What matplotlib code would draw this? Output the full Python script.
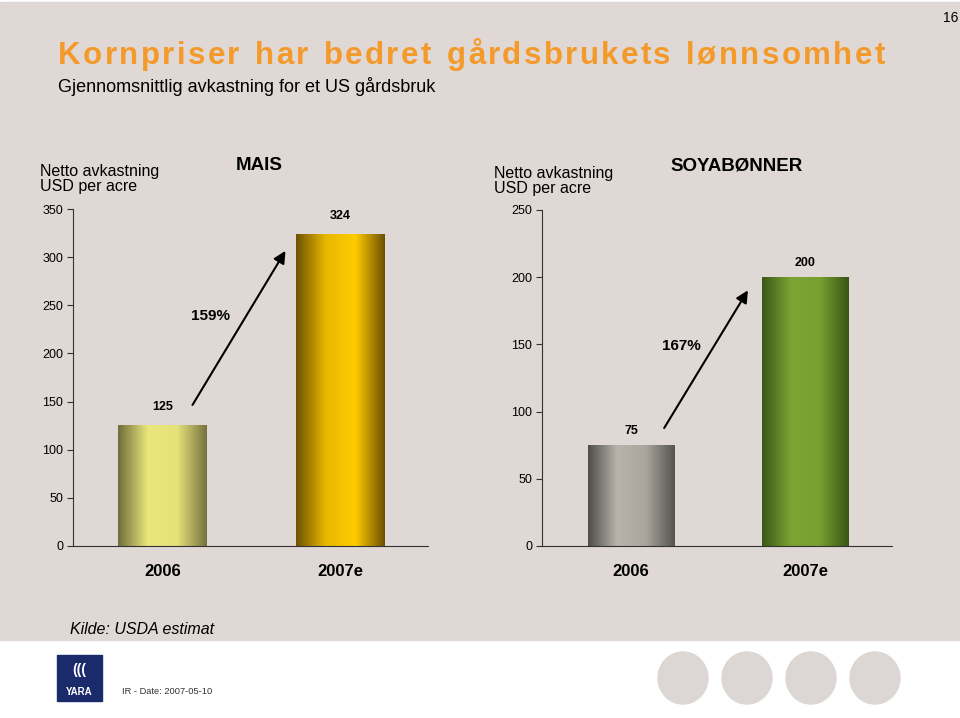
import numpy as np
import matplotlib
matplotlib.use("Agg")
import matplotlib.pyplot as plt
from matplotlib.colors import LinearSegmentedColormap
from matplotlib.patches import Rectangle, Ellipse

plt.rcParams['font.family'] = ['Liberation Sans', 'DejaVu Sans']

# data
years = ['2006', '2007e']
mais = [125, 324]
soya = [75, 200]
mais_growth = '159%'
soya_growth = '167%'
title = 'Kornpriser har bedret gårdsbrukets lønnsomhet'

BG = '#e0d8d4'
ORANGE = '#f39a2b'

# gradient colours for each bar (edge, centre, edge)
mais_cols = [['#706d3a', '#e9e67c', '#e6e27a', '#767240'],
             ['#6e5200', '#e8b800', '#ffcc00', '#6c5000']]
soya_cols = [['#4f4d4b', '#b8b3ab', '#aaa59d', '#55534f'],
             ['#3b5716', '#7aa533', '#76a030', '#3a5414']]


def gradient_bars(ax, values, cols, width=0.5):
    for i, (v, c) in enumerate(zip(values, cols)):
        cmap = LinearSegmentedColormap.from_list('g%d' % i, c)
        grad = np.linspace(0, 1, 256).reshape(1, -1)
        ax.imshow(grad, cmap=cmap, aspect='auto', zorder=2,
                  extent=(i - width / 2, i + width / 2, 0, v))


def style_axes(ax, top, step):
    ax.set_facecolor('none')
    for s in ['top', 'right']:
        ax.spines[s].set_visible(False)
    ax.spines['left'].set_color('#333333')
    ax.spines['bottom'].set_color('#333333')
    ax.set_ylim(0, top)
    ax.set_yticks(np.arange(0, top + 1, step))
    ax.tick_params(axis='y', labelsize=9, length=4, color='#333333', pad=3)
    ax.set_xticks(range(len(years)))
    ax.set_xticklabels(years, fontsize=12, fontweight='bold')
    ax.tick_params(axis='x', length=0, pad=13)


def spaced_text(fig, x, y, s, x_end, **kw):
    # place characters one by one so the line spans x..x_end (letter spacing)
    r = fig.canvas.get_renderer()
    widths = []
    for ch in s:
        t = fig.text(0, 0, ch if ch != ' ' else 'n', **kw)
        widths.append(t.get_window_extent(r).width * (0.55 if ch == ' ' else 1))
        t.remove()
    W = fig.bbox.width
    gap = ((x_end - x) * W - sum(widths)) / (len(s) - 1)
    px = x * W
    for ch, w in zip(s, widths):
        if ch != ' ':
            fig.text(px / W, y, ch, **kw)
        px += w + gap


fig = plt.figure(figsize=(9.6, 7.18), dpi=100)
fig.patch.set_facecolor('white')
fig.patches.append(Rectangle((0, (718 - 640) / 718), 1, 640 / 718 - 0.003,
                             transform=fig.transFigure, color=BG, zorder=-5))

fig.text(958 / 960, 1 - 18 / 718, '16', fontsize=10, ha='right', va='center')
spaced_text(fig, 58 / 960, 1 - 64 / 718, title, 885 / 960,
            fontsize=22.5, fontweight='bold', color=ORANGE, va='baseline')
fig.text(58 / 960, 1 - 87 / 718, 'Gjennomsnittlig avkastning for et US gårdsbruk',
         fontsize=13, va='center')

# left chart - MAIS
ax1 = fig.add_axes([73 / 960, (718 - 546) / 718, 355 / 960, 337 / 718])
gradient_bars(ax1, mais, mais_cols)
style_axes(ax1, 350, 50)
ax1.set_xlim(-0.505, 1.495)
for i, v in enumerate(mais):
    ax1.annotate(str(v), (i, v), xytext=(0, 9), textcoords='offset points',
                 ha='center', va='bottom', fontsize=9, fontweight='bold')
ax1.annotate('', xy=(0.700, 309), xytext=(0.160, 144),
             arrowprops=dict(arrowstyle='-|>', color='black', lw=1.5, mutation_scale=18))
ax1.text(0.272, 239, mais_growth, fontsize=11, fontweight='bold', ha='center', va='center')
fig.text(40 / 960, 1 - 164 / 718, 'Netto avkastning\nUSD per acre', fontsize=11.5,
         va='top', linespacing=1.0)
fig.text(259 / 960, 1 - 166 / 718, 'MAIS', fontsize=13.5, fontweight='bold',
         ha='center', va='center')

# right chart - SOYABØNNER
ax2 = fig.add_axes([542 / 960, (718 - 546) / 718, 350 / 960, 336 / 718])
gradient_bars(ax2, soya, soya_cols)
style_axes(ax2, 250, 50)
ax2.set_xlim(-0.513, 1.499)
for i, v in enumerate(soya):
    ax2.annotate(str(v), (i, v), xytext=(0, 6), textcoords='offset points',
                 ha='center', va='bottom', fontsize=9, fontweight='bold')
ax2.annotate('', xy=(0.679, 192), xytext=(0.181, 86),
             arrowprops=dict(arrowstyle='-|>', color='black', lw=1.5, mutation_scale=18))
ax2.text(0.289, 149, soya_growth, fontsize=11, fontweight='bold', ha='center', va='center')
fig.text(494 / 960, 1 - 166 / 718, 'Netto avkastning\nUSD per acre', fontsize=11.5,
         va='top', linespacing=1.0)
fig.text(737 / 960, 1 - 166 / 718, 'SOYABØNNER', fontsize=13.5, fontweight='bold',
         ha='center', va='center')

fig.text(70 / 960, 1 - 629 / 718, 'Kilde: USDA estimat', fontsize=11.5,
         style='italic', va='center')

# footer: logo, date, grey circles
fig.patches.append(Rectangle((57 / 960, 1 - 701 / 718), 45 / 960, 46 / 718,
                             transform=fig.transFigure, color='#1b2a6b', zorder=1))
fig.text(79.5 / 960, 1 - 692 / 718, 'YARA', fontsize=7, fontweight='bold',
         color='white', ha='center', va='center', zorder=2)
fig.text(79.5 / 960, 1 - 670 / 718, '(((', fontsize=10, fontweight='bold',
         color='white', ha='center', va='center', zorder=2)
fig.text(122 / 960, 1 - 692 / 718, 'IR - Date: 2007-05-10', fontsize=6.7,
         color='#333333', va='center')
for cx in [683, 747, 811, 875]:
    fig.patches.append(Ellipse((cx / 960, 1 - 678 / 718), 50 / 960, 52 / 718,
                               transform=fig.transFigure, color='#dcd7d4', zorder=1))

fig.savefig('out.png', dpi=100)
